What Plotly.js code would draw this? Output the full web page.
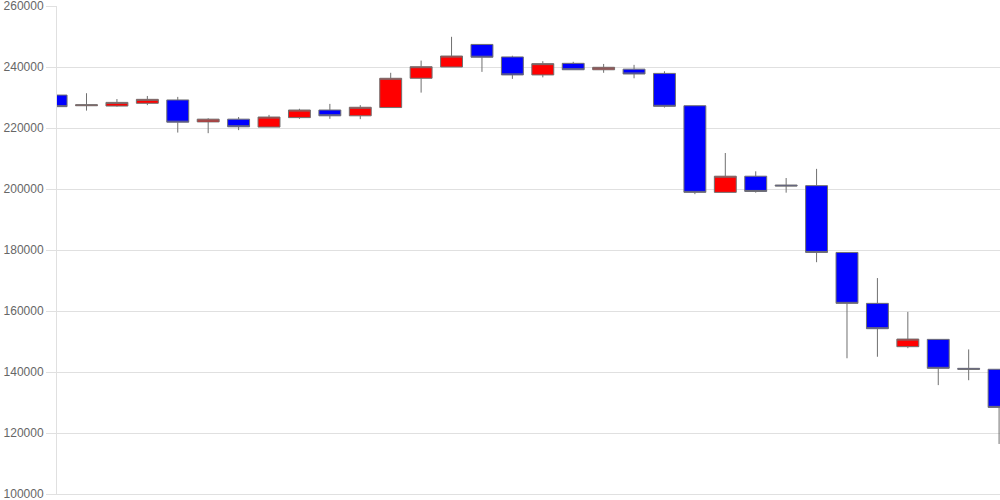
<!DOCTYPE html>
<html>
<head>
<meta charset="utf-8">
<script src="https://cdn.plot.ly/plotly-3.0.1.min.js"></script>
<style>html,body{margin:0;padding:0;background:#fff;}#chart{width:1000px;height:500px;}</style>
</head>
<body>
<div id="chart"></div>
<script>
var idx = [];
for (var i = 0; i < 32; i++) idx.push(i);

var openVals  = [230800, 227300, 227200, 228100, 229200, 222000, 222900, 220300, 223400, 225900,
                 224000, 226700, 236300, 240000, 247400, 243300, 237400, 241200, 239100, 239300,
                 237900, 227300, 198900, 204200, 201300, 201100, 179200, 162500, 148300, 150700,
                 141200, 140900];
var highVals  = [230800, 231400, 229500, 230500, 230200, 223200, 223600, 224300, 226300, 227900,
                 227500, 238100, 242100, 249900, 247400, 243700, 241900, 241700, 241000, 240700,
                 238600, 227300, 211800, 205800, 203600, 206600, 179200, 170800, 159700, 150700,
                 147400, 140900];
var lowVals   = [225200, 225700, 227000, 227500, 218500, 218300, 219300, 220300, 223000, 223000,
                 222900, 226700, 231600, 240000, 238400, 236100, 236600, 239100, 238100, 236300,
                 226700, 198300, 198900, 198800, 198800, 176000, 144500, 145000, 147800, 135700,
                 137300, 116400];
var closeVals = [227000, 227600, 228400, 229400, 221900, 222900, 220400, 223600, 225900, 224000,
                 226800, 236300, 240100, 243600, 243200, 237400, 241100, 239100, 239900, 237700,
                 227100, 198900, 204200, 199200, 201000, 179200, 162500, 154200, 150800, 141200,
                 140900, 128400];

var yTicks = [100000, 120000, 140000, 160000, 180000, 200000, 220000, 240000, 260000];

var trace = {
  type: 'candlestick',
  x: idx,
  open: openVals,
  high: highVals,
  low: lowVals,
  close: closeVals,
  increasing: {fillcolor: '#ff0000', line: {color: '#707070', width: 1}},
  decreasing: {fillcolor: '#0000ff', line: {color: '#707070', width: 1}},
  whiskerwidth: 0,
  hoverinfo: 'none'
};

var layout = {
  width: 1000,
  height: 500,
  margin: {l: 57, r: 0, t: 6, b: 6},
  paper_bgcolor: '#ffffff',
  plot_bgcolor: '#ffffff',
  showlegend: false,
  boxgap: 0.28,
  boxgroupgap: 0,
  font: {family: 'Liberation Sans, Arial, sans-serif', size: 12, color: '#666666'},
  xaxis: {
    type: 'linear',
    range: [0.03, 31.03],
    showgrid: false,
    zeroline: false,
    showticklabels: false,
    ticks: '',
    showline: true,
    linecolor: '#e0e0e0',
    linewidth: 1,
    rangeslider: {visible: false},
    fixedrange: true
  },
  yaxis: {
    range: [100000, 260000],
    tickmode: 'array',
    tickvals: yTicks,
    ticktext: yTicks.map(String),
    showgrid: true,
    gridcolor: '#e0e0e0',
    gridwidth: 1,
    zeroline: false,
    showline: true,
    linecolor: '#e0e0e0',
    linewidth: 1,
    ticks: 'outside',
    ticklen: 10,
    tickcolor: '#e0e0e0',
    ticklabeloverflow: 'allow',
    tickfont: {family: 'Liberation Sans, Arial, sans-serif', size: 12, color: '#666666'},
    fixedrange: true
  },
  hovermode: false
};

Plotly.newPlot('chart', [trace], layout, {displayModeBar: false, staticPlot: true});
</script>
</body>
</html>
